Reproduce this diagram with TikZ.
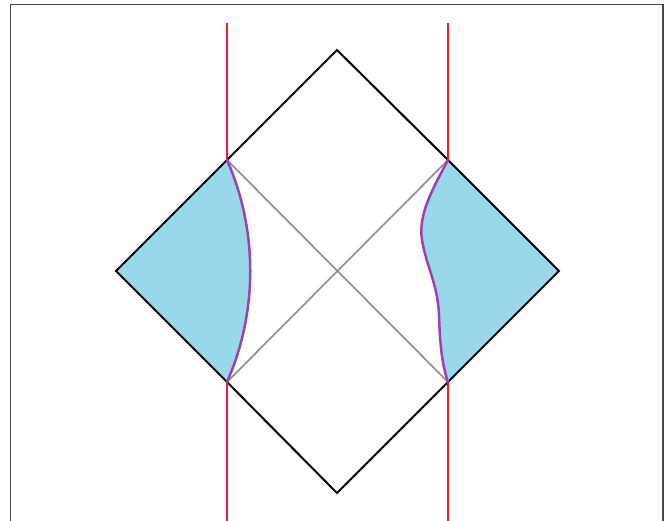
\documentclass[tikz,border=0pt]{standalone}
\definecolor{wedge}{RGB}{153,216,232}
\definecolor{horizon}{RGB}{160,64,176}
\definecolor{brane}{RGB}{240,30,40}
\definecolor{frame}{RGB}{70,70,70}
\definecolor{diaggray}{RGB}{140,140,140}
\begin{document}
\begin{tikzpicture}[x=1pt,y=-1pt,
  outline/.style={black,line width=2pt,line join=miter},
  diag/.style={diaggray,line width=1.6pt},
  redline/.style={brane,line width=2.8pt},
  purp/.style={horizon,line width=2.5pt},
  shade/.style={fill=wedge,draw=none}]
\useasboundingbox (0,0) rectangle (668,521);
\coordinate (T) at (337,50);
\coordinate (B) at (337,493);
\coordinate (L) at (116,271);
\coordinate (R) at (559,271);
\coordinate (LT) at (227,160);
\coordinate (LB) at (227,382);
\coordinate (RT) at (448,160);
\coordinate (RB) at (448,382);
\coordinate (LTtop) at (227,23);
\coordinate (LBbot) at (227,521);
\coordinate (RTtop) at (448,23);
\coordinate (RBbot) at (448,521);
% frame
\draw[frame,line width=1.6pt] (10.5,521) -- (10.5,4.5) -- (663,4.5) -- (663,521);
% shaded wedges
\fill[wedge] (LT) -- (L) -- (LB) .. controls (258,312) and (258,230) .. (LT) -- cycle;
\fill[wedge] (RT) -- (R) -- (RB) .. controls (442,365) and (440,345) .. (439,315)
   .. controls (438,285) and (426,265) .. (422,240)
   .. controls (418,215) and (432,190) .. (RT) -- cycle;
% diagonals
\draw[diag] (LT) -- (RB);
\draw[diag] (RT) -- (LB);
% outline
\draw[outline] (LT) -- (T) -- (RT);
\draw[outline] (RT) -- (R) -- (RB);
\draw[outline] (RB) -- (B) -- (LB);
\draw[outline] (LB) -- (L) -- (LT);
% red lines
\draw[redline] (LTtop) -- (LT);
\draw[redline] (LB) -- (LBbot);
\draw[redline] (RTtop) -- (RT);
\draw[redline] (RB) -- (RBbot);
% purple curves
\draw[purp] (LT) .. controls (258,230) and (258,312) .. (LB);
\draw[purp] (RT) .. controls (432,190) and (418,215) .. (422,240)
   .. controls (426,265) and (438,285) .. (439,315)
   .. controls (440,345) and (442,365) .. (RB);
\end{tikzpicture}
\end{document}
